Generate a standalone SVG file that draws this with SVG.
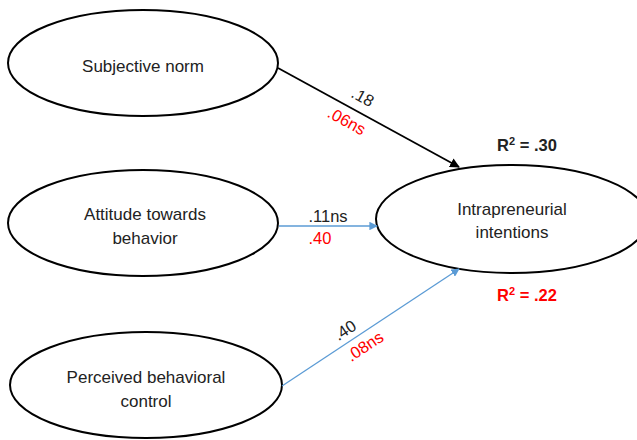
<svg xmlns="http://www.w3.org/2000/svg" width="637" height="440" viewBox="0 0 637 440">
<defs>
<style>
.node{fill:#fff;stroke:#000;stroke-width:2}
.t{font-family:"Liberation Sans",Arial,sans-serif;font-size:17px;fill:#222;text-anchor:middle}
.lb{font-family:"Liberation Sans",Arial,sans-serif;font-size:16.5px;fill:#222;text-anchor:middle}
.red{fill:#ff0000}
.bold{font-weight:bold}
</style>
<marker id="ab" viewBox="0 0 10 10" refX="9" refY="5" markerWidth="5.5" markerHeight="5.5" orient="auto"><path d="M0,0 L10,5 L0,10 z" fill="#000"/></marker>
<marker id="ablue" viewBox="0 0 10 10" refX="9" refY="5" markerWidth="6.5" markerHeight="6.5" orient="auto"><path d="M0,0 L10,5 L0,10 z" fill="#5b9bd5"/></marker>
</defs>
<rect width="637" height="440" fill="#fff"/>
<g id="n1"><ellipse class="node" cx="143" cy="63" rx="135" ry="53"/><text class="t" x="143" y="72">Subjective norm</text></g>
<g id="n2"><ellipse class="node" cx="143" cy="223" rx="135" ry="53"/><text class="t" x="145" y="220">Attitude towards</text><text class="t" x="145" y="244">behavior</text></g>
<g id="n3"><ellipse class="node" cx="146" cy="385" rx="136" ry="53"/><text class="t" x="146" y="383">Perceived behavioral</text><text class="t" x="146" y="407">control</text></g>
<g id="n4"><ellipse class="node" cx="512" cy="219" rx="136" ry="54"/><text class="t" x="512" y="215">Intrapreneurial</text><text class="t" x="512" y="238">intentions</text></g>
<g id="connectors">
<line x1="278" y1="68" x2="459" y2="167" stroke="#000" stroke-width="1.8" marker-end="url(#ab)"/>
<line x1="279" y1="226" x2="377" y2="226" stroke="#5b9bd5" stroke-width="1.3" marker-end="url(#ablue)"/>
<line x1="282" y1="386" x2="459" y2="269" stroke="#5b9bd5" stroke-width="1.3" marker-end="url(#ablue)"/>
<text class="lb" transform="translate(360,102) rotate(29)">.18</text>
<text class="lb red" transform="translate(344,126) rotate(29)">.06ns</text>
<text class="lb" x="328" y="222">.11ns</text>
<text class="lb red" x="320" y="244">.40</text>
<text class="lb" transform="translate(348,335) rotate(-33.5)">.40</text>
<text class="lb red" transform="translate(368,351) rotate(-33.5)">.08ns</text>
</g>
<g id="r2a"><text class="lb bold" x="527" y="151">R<tspan font-size="11" dy="-6">2</tspan><tspan dy="6"> = .30</tspan></text></g>
<g id="r2b"><text class="lb bold red" x="527" y="301">R<tspan font-size="11" dy="-6">2</tspan><tspan dy="6"> = .22</tspan></text></g>
</svg>
